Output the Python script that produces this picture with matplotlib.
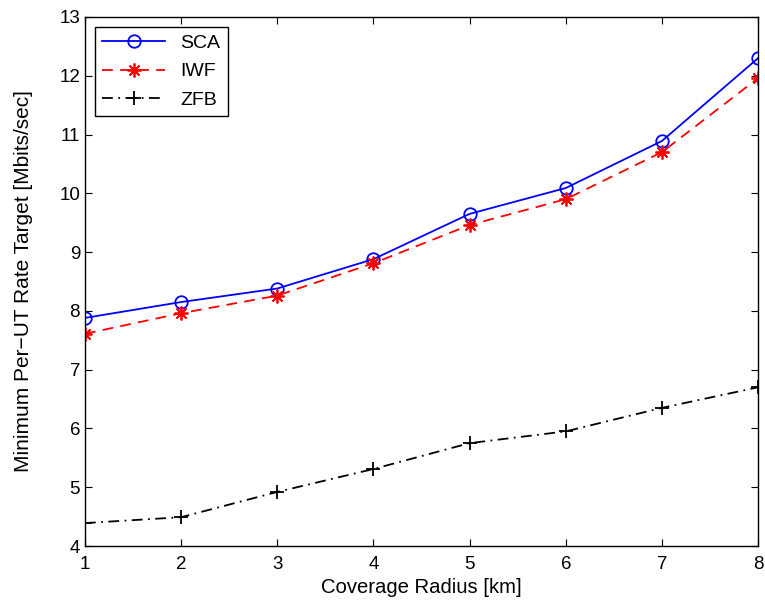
import matplotlib
matplotlib.use('Agg')
import matplotlib.pyplot as plt

radius = [1, 2, 3, 4, 5, 6, 7, 8]
sca = [7.88, 8.15, 8.38, 8.88, 9.65, 10.09, 10.89, 12.30]
iwf = [7.61, 7.96, 8.26, 8.81, 9.46, 9.90, 10.70, 11.96]
zfb = [4.39, 4.49, 4.92, 5.31, 5.75, 5.95, 6.35, 6.70]

plt.rcParams['font.family'] = ['Liberation Sans', 'DejaVu Sans']
plt.rcParams['font.size'] = 13.5
plt.rcParams['axes.linewidth'] = 1.0

fig = plt.figure(figsize=(7.65, 6.05), dpi=100)
ax = fig.add_axes([0.111, 0.0975, 0.88, 0.8745])

ax.plot(radius, sca, '-', color='blue', marker='o', markersize=9,
        markerfacecolor='none', markeredgewidth=1.3, linewidth=1.3, label='SCA')
ax.plot(radius, iwf, '--', color='red', marker=(8, 2, 0), markersize=10,
        markeredgewidth=1.3, linewidth=1.3, dashes=(6, 4), label='IWF')
ax.plot(radius, zfb, '-.', color='black', marker='+', markersize=10,
        markeredgewidth=1.3, linewidth=1.3, dashes=(6, 3, 1, 3), label='ZFB')

ax.set_xlim(1, 8)
ax.set_ylim(4, 13)
ax.set_xticks(radius)
ax.set_yticks(range(4, 14))
ax.tick_params(direction='in', top=True, right=True, length=5, labelsize=13.5)
ax.tick_params(axis='x', pad=7)
ax.set_xlabel('Coverage Radius [km]', fontsize=14.6, labelpad=4)
ax.set_ylabel('Minimum Per\u2212UT Rate Target [Mbits/sec]', fontsize=15, labelpad=19)

leg = ax.legend(loc='upper left', fontsize=14, fancybox=False, framealpha=1,
                edgecolor='black', handlelength=3.2, borderaxespad=0.5,
                labelspacing=0.55)
leg.get_frame().set_linewidth(1.0)

fig.savefig('out.png', dpi=100)
